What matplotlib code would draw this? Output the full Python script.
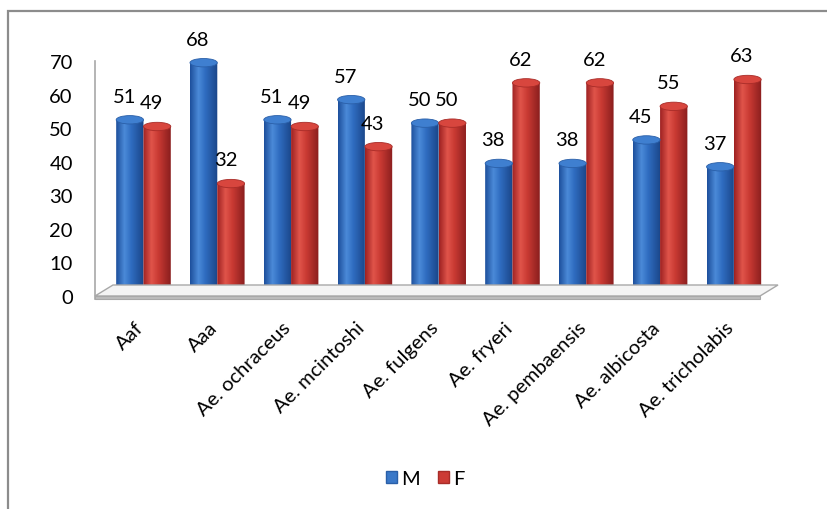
import numpy as np
import matplotlib as mpl
mpl.use('Agg')
import matplotlib.pyplot as plt
from matplotlib.patches import Ellipse, PathPatch, Polygon, Rectangle, Patch
from matplotlib.path import Path
from matplotlib.colors import LinearSegmentedColormap
from matplotlib.transforms import ScaledTranslation, Affine2D

# data
species = ['Aaf', 'Aaa', 'Ae. ochraceus', 'Ae. mcintoshi', 'Ae. fulgens',
           'Ae. fryeri', 'Ae. pembaensis', 'Ae. albicosta', 'Ae. tricholabis']
male = [51, 68, 51, 57, 50, 38, 38, 45, 37]
female = [49, 32, 49, 43, 50, 62, 62, 55, 63]
yticks = [0, 10, 20, 30, 40, 50, 60, 70]

plt.rcParams['font.family'] = ['Lato', 'DejaVu Sans']
FS = 14.5

W, H = 828., 510.
fig = plt.figure(figsize=(W / 100, H / 100), dpi=100)

def box(x0, y0, x1, y1):
  """ pixel box (from top-left) -> figure fraction rect """
  return [x0 / W, 1 - y1 / H, (x1 - x0) / W, (y1 - y0) / H]

# pixel coords measured from the top-left corner
pix = Affine2D().scale(1 / W, -1 / H).translate(0, 1) + fig.transFigure

ax = fig.add_axes(box(95, 57, 778, 292))
for s in ax.spines.values():
  s.set_visible(False)

# outer chart frame
fig.add_artist(Rectangle((8 / W, -0.05), 1.0, 1 - 12 / H + 0.05,
                         transform=fig.transFigure, fill=False,
                         ec='#8c8c8c', lw=1.6))

# floor + wall line
fig.add_artist(Polygon([(95, 297), (760, 297), (778, 286), (113, 286)],
                       closed=True, transform=pix, fc='#f4f4f4',
                       ec='#a8a8a8', lw=1.0, zorder=0.5))
fig.add_artist(Polygon([(95, 297), (760, 297), (760, 300), (95, 300)],
                       closed=True, transform=pix, fc='#bdbdbd',
                       ec='#a8a8a8', lw=0.8, zorder=0.5))
fig.add_artist(plt.Line2D([95, 95], [62, 300], transform=pix,
                          color='#a8a8a8', lw=1.2, zorder=0.6))

blue_cm = LinearSegmentedColormap.from_list('b', [
  (0.0, '#1d4f9c'), (0.3, '#4b8ad8'), (0.55, '#2f6cc0'), (1.0, '#1a4588')])
red_cm = LinearSegmentedColormap.from_list('r', [
  (0.0, '#9e2222'), (0.3, '#e0544a'), (0.55, '#c93a33'), (1.0, '#8a1e1e')])
grad = np.linspace(0, 1, 64).reshape(1, -1)

EH = 1.25   # half height of the ellipses, in data units
BW = 0.37

def cylinder(xc, v, cmap, topc, edge):
  r = BW / 2
  t = np.linspace(0, np.pi, 40)
  verts = [(xc - r, v), (xc + r, v), (xc + r, 0)]
  verts += list(zip(xc + r * np.cos(t), -EH * np.sin(t)))
  verts.append((xc - r, v))
  codes = [Path.MOVETO] + [Path.LINETO] * (len(verts) - 2) + [Path.CLOSEPOLY]
  body = PathPatch(Path(verts, codes), fc='none', ec='none')
  ax.add_patch(body)
  im = ax.imshow(grad, extent=(xc - r, xc + r, -EH, v), aspect='auto',
                 cmap=cmap, zorder=2, interpolation='bilinear')
  im.set_clip_path(body)
  ax.add_patch(Ellipse((xc, v), 2 * r, 2 * EH, fc=topc, ec=edge, lw=0.6,
                       zorder=3))

x = np.arange(len(species))
for i in x:
  cylinder(i - 0.185, male[i], blue_cm, '#3f7fd0', '#2a5fa8')
  cylinder(i + 0.185, female[i], red_cm, '#d8463e', '#a82c28')
  ax.annotate(str(male[i]), (i - 0.185, male[i]), xytext=(-4, 17),
              textcoords='offset points', ha='center', va='center',
              fontsize=FS)
  ax.annotate(str(female[i]), (i + 0.185, female[i]), xytext=(-4, 17),
              textcoords='offset points', ha='center', va='center',
              fontsize=FS)

ax.set_xlim(-0.657, 8.598)
ax.set_ylim(0, 70)

ax.set_yticks(yticks)
ax.set_yticklabels([str(v) for v in yticks], fontsize=FS)
ax.tick_params(axis='y', length=0, pad=16)
for lab in ax.get_yticklabels():
  lab.set_transform(lab.get_transform() +
                    ScaledTranslation(0, -0.05, fig.dpi_scale_trans))

ax.set_xticks(x)
ax.set_xticklabels(species, fontsize=FS, rotation=45, ha='right',
                   rotation_mode='anchor')
ax.tick_params(axis='x', length=0, pad=20)
for lab in ax.get_xticklabels():
  lab.set_transform(lab.get_transform() +
                    ScaledTranslation(-0.09, 0, fig.dpi_scale_trans))

handles = [Patch(fc='#3a78c8', ec='#2a5fa8', label='M'),
           Patch(fc='#cc3b35', ec='#a82c28', label='F')]
fig.legend(handles=handles, loc='center', bbox_to_anchor=(425 / W, 1 - 480 / H),
           ncol=2, frameon=False, fontsize=FS, handlelength=0.55,
           handleheight=0.55, handletextpad=0.2, columnspacing=0.9)

plt.savefig('out.png', dpi=100)
